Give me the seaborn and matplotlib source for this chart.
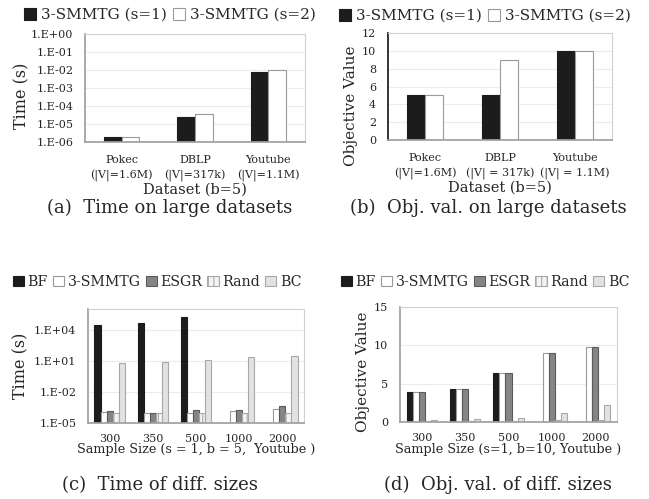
import numpy as np
import pandas as pd
import matplotlib
matplotlib.use("Agg")
import matplotlib.pyplot as plt
from matplotlib.patches import Patch
from matplotlib.ticker import FixedLocator, FuncFormatter
import seaborn as sns

# ---------------- data ----------------
datasets_a = ["Pokec\n(|V|=1.6M)", "DBLP\n(|V|=317k)", "Youtube\n(|V|=1.1M)"]
datasets_b = ["Pokec\n(|V|=1.6M)", "DBLP\n(|V| = 317k)", "Youtube\n(|V| = 1.1M)"]
series_ab = ["3-SMMTG (s=1)", "3-SMMTG (s=2)"]
time_s1 = [1.9e-6, 2.5e-5, 8.0e-3]
time_s2 = [2.0e-6, 3.6e-5, 1.05e-2]
obj_s1 = [5, 5, 10]
obj_s2 = [5, 9, 10]

sizes = ["300", "350", "500", "1000", "2000"]
methods = ["BF", "3-SMMTG", "ESGR", "Rand", "BC"]
time_bf = [2.8e4, 4.0e4, 1.6e5, np.nan, np.nan]
time_smmtg = [1.1e-4, 1.0e-4, 1.0e-4, 1.3e-4, 2.2e-4]
time_esgr = [1.4e-4, 1.0e-4, 2.0e-4, 2.0e-4, 4.0e-4]
time_rand = [8.5e-5, 8.5e-5, 8.5e-5, 8.5e-5, 8.5e-5]
time_bc = [6.0, 7.4, 11.5, 22.0, 32.0]
obj_bf = [3.9, 4.35, 6.4, np.nan, np.nan]
obj_smmtg = [3.9, 4.35, 6.4, 9.0, 9.8]
obj_esgr = [3.9, 4.35, 6.4, 9.0, 9.8]
obj_rand = [0.1, 0.1, 0.1, 0.2, 0.2]
obj_bc = [0.3, 0.35, 0.5, 1.15, 2.2]

# ---------------- style ----------------
sns.set_theme(style="white")
plt.rcParams['font.family'] = ['DejaVu Serif']
plt.rcParams['hatch.color'] = '#9a9a9a'
plt.rcParams['hatch.linewidth'] = 0.8

styles2 = [dict(facecolor="#1c1c1c", edgecolor="#1c1c1c", hatch=None),
           dict(facecolor="white", edgecolor="#9a9a9a", hatch=None)]
styles5 = [dict(facecolor="#1c1c1c", edgecolor="#1c1c1c", hatch=None),
           dict(facecolor="white", edgecolor="#9a9a9a", hatch=None),
           dict(facecolor="#858585", edgecolor="#5a5a5a", hatch=None),
           dict(facecolor="#f4f4f4", edgecolor="#a8a8a8", hatch="|||"),
           dict(facecolor="#e2e2e2", edgecolor="#a8a8a8", hatch=None)]

fig = plt.figure(figsize=(6.49, 4.99), dpi=100)

def px_axes(l, t, r, b):
    W, H = 649, 499
    return fig.add_axes([l / W, 1 - b / H, (r - l) / W, (b - t) / H])

def style_axes(ax, xpad=2):
    for s in ["top", "right"]:
        ax.spines[s].set_color("#d0d0d0")
        ax.spines[s].set_linewidth(0.8)
    ax.spines["bottom"].set_color("#a0a0a0")
    ax.spines["left"].set_color("#a0a0a0")
    ax.tick_params(length=0, labelsize=8)
    ax.tick_params(axis="y", pad=8.5)
    ax.tick_params(axis="x", pad=xpad)
    ax.yaxis.grid(True, color="#ececec", linewidth=0.8)
    ax.set_axisbelow(True)

def apply_styles(ax, styles):
    for cont, st in zip(ax.containers, styles):
        for p in cont.patches:
            p.set_facecolor(st["facecolor"])
            p.set_edgecolor(st["edgecolor"])
            p.set_linewidth(0.8)
            if st["hatch"]:
                p.set_hatch(st["hatch"])

def handles(labels, styles):
    return [Patch(facecolor=st["facecolor"], edgecolor=st["edgecolor"],
                  hatch=st["hatch"], linewidth=0.8, label=lb)
            for lb, st in zip(labels, styles)]

def log_fmt(v, pos):
    e = int(round(np.log10(v)))
    return "1.E%s%02d" % ("+" if e >= 0 else "-", abs(e))

def set_two_line_xticks(ax):
    for t in ax.get_xticklabels():
        t.set_linespacing(1.6)

# ---------------- (a) ----------------
ax = px_axes(85, 34, 305, 142)
df_a = pd.DataFrame({"Dataset": datasets_a * 2,
                     "Series": [series_ab[0]] * 3 + [series_ab[1]] * 3,
                     "Time": time_s1 + time_s2})
sns.barplot(data=df_a, x="Dataset", y="Time", hue="Series", ax=ax,
            width=0.48, legend=False, errorbar=None)
apply_styles(ax, styles2)
ax.set_yscale("log")
ax.set_ylim(1e-6, 1.0)
ax.yaxis.set_major_locator(FixedLocator([10.0 ** k for k in range(-6, 1)]))
ax.yaxis.set_major_formatter(FuncFormatter(log_fmt))
ax.yaxis.set_minor_locator(FixedLocator([]))
style_axes(ax, xpad=9)
set_two_line_xticks(ax)
ax.set_ylabel("Time (s)", fontsize=11.5, labelpad=0, y=0.43)
ax.set_xlabel("Dataset (b=5)", fontsize=10.5, labelpad=1)
ax.legend(handles=handles(series_ab, styles2), loc="center", bbox_to_anchor=(170 / 649, 1 - 15 / 499),
          bbox_transform=fig.transFigure, ncol=2, frameon=False, fontsize=11,
          handlelength=0.8, handleheight=0.8, handletextpad=0.3, columnspacing=0.4, borderpad=0)

# ---------------- (b) ----------------
ax = px_axes(388, 33, 612, 140)
df_b = pd.DataFrame({"Dataset": datasets_b * 2,
                     "Series": [series_ab[0]] * 3 + [series_ab[1]] * 3,
                     "Obj": obj_s1 + obj_s2})
sns.barplot(data=df_b, x="Dataset", y="Obj", hue="Series", ax=ax,
            width=0.48, legend=False, errorbar=None)
apply_styles(ax, styles2)
ax.set_ylim(0, 12)
ax.set_yticks(range(0, 13, 2))
style_axes(ax, xpad=9)
set_two_line_xticks(ax)
ax.spines["left"].set_color("#1c1c1c")
ax.set_ylabel("Objective Value", fontsize=11, labelpad=3, y=0.32)
ax.set_xlabel("Dataset (b=5)", fontsize=10.5, labelpad=1)
ax.legend(handles=handles(series_ab, styles2), loc="center", bbox_to_anchor=(485 / 649, 1 - 16 / 499),
          bbox_transform=fig.transFigure, ncol=2, frameon=False, fontsize=11,
          handlelength=0.8, handleheight=0.8, handletextpad=0.3, columnspacing=0.4, borderpad=0)

# ---------------- (c) ----------------
ax = px_axes(88, 309, 304, 423)
time_vals = [time_bf, time_smmtg, time_esgr, time_rand, time_bc]
df_c = pd.DataFrame({"Size": sizes * 5,
                     "Method": [m for m in methods for _ in sizes],
                     "Time": [v for vals in time_vals for v in vals]})
sns.barplot(data=df_c, x="Size", y="Time", hue="Method", ax=ax,
            width=0.7, legend=False, errorbar=None)
apply_styles(ax, styles5)
ax.set_yscale("log")
ax.set_ylim(1e-5, 1e6)
ax.yaxis.set_major_locator(FixedLocator([1e-5, 1e-2, 1e1, 1e4]))
ax.yaxis.set_major_formatter(FuncFormatter(log_fmt))
ax.yaxis.set_minor_locator(FixedLocator([]))
style_axes(ax, xpad=8)
ax.set_ylabel("Time (s)", fontsize=11.5, labelpad=3)
ax.set_xlabel("Sample Size (s = 1, b = 5,  Youtube )", fontsize=9.2, labelpad=-1)
ax.legend(handles=handles(methods, styles5), loc="center", bbox_to_anchor=(157 / 649, 1 - 282 / 499),
          bbox_transform=fig.transFigure, ncol=5, frameon=False, fontsize=10.2,
          handlelength=0.8, handleheight=0.8, handletextpad=0.25, columnspacing=0.35, borderpad=0)

# ---------------- (d) ----------------
ax = px_axes(400, 307, 617, 422)
obj_vals = [obj_bf, obj_smmtg, obj_esgr, obj_rand, obj_bc]
df_d = pd.DataFrame({"Size": sizes * 5,
                     "Method": [m for m in methods for _ in sizes],
                     "Obj": [v for vals in obj_vals for v in vals]})
sns.barplot(data=df_d, x="Size", y="Obj", hue="Method", ax=ax,
            width=0.7, legend=False, errorbar=None)
apply_styles(ax, styles5)
ax.set_ylim(0, 15)
ax.set_yticks([0, 5, 10, 15])
style_axes(ax, xpad=8)
ax.set_ylabel("Objective Value", fontsize=11, labelpad=3, y=0.435)
ax.set_xlabel("Sample Size (s=1, b=10, Youtube )", fontsize=9.2, labelpad=0)
ax.legend(handles=handles(methods, styles5), loc="center", bbox_to_anchor=(485 / 649, 1 - 282 / 499),
          bbox_transform=fig.transFigure, ncol=5, frameon=False, fontsize=10.2,
          handlelength=0.8, handleheight=0.8, handletextpad=0.25, columnspacing=0.35, borderpad=0)

# ---------------- captions ----------------
cap_kw = dict(ha="center", va="center", fontsize=13)
fig.text(170 / 649, 1 - 208 / 499, "(a)  Time on large datasets", **cap_kw)
fig.text(488 / 649, 1 - 208 / 499, "(b)  Obj. val. on large datasets", **cap_kw)
fig.text(160 / 649, 1 - 485 / 499, "(c)  Time of diff. sizes", **cap_kw)
fig.text(498 / 649, 1 - 485 / 499, "(d)  Obj. val. of diff. sizes", **cap_kw)

fig.savefig("out.png", dpi=100)
